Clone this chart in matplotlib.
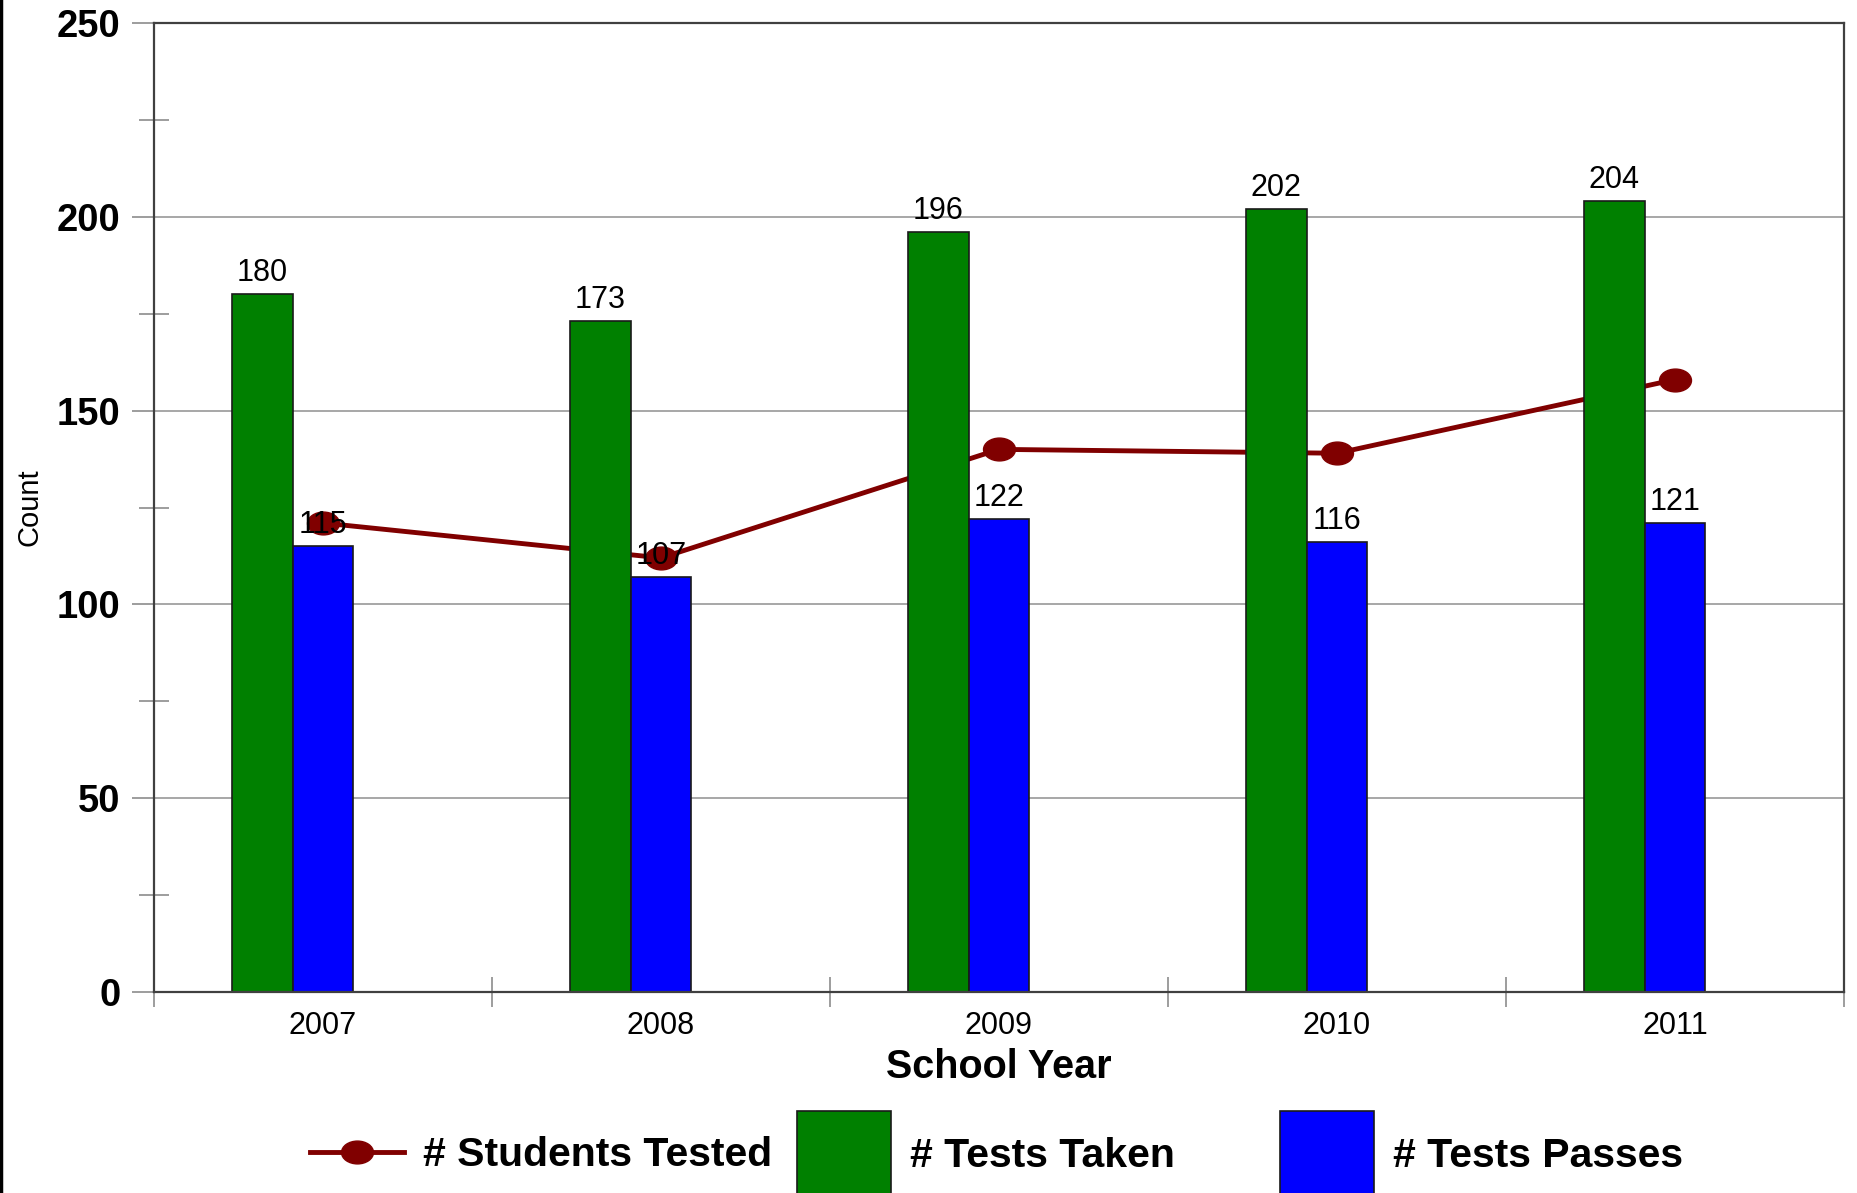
import numpy as np
import matplotlib
matplotlib.use('Agg')
import matplotlib.pyplot as plt
from matplotlib.path import Path
from matplotlib.lines import Line2D
from matplotlib.patches import Patch

plt.rcParams['font.family'] = ['Liberation Sans', 'DejaVu Sans']

years = ['2007', '2008', '2009', '2010', '2011']
students_tested = [121, 112, 140, 139, 158]
tests_taken = [180, 173, 196, 202, 204]
tests_passes = [115, 107, 122, 116, 121]

line_col = '#800000'
green = '#008000'
blue = '#0000ff'
grey = '#8c8c8c'

# wide ellipse marker like the original
circ = Path.unit_circle()
ellipse = Path(circ.vertices * np.array([1.4, 1.0]), circ.codes)

fig = plt.figure(figsize=(18.57, 11.93), dpi=100)
ax = fig.add_axes([0.0829, 0.1685, 0.9101, 0.8122])

x = np.arange(len(years))
w = 0.18
ax.bar(x + 0.5 - w, tests_taken, width=w, align='center', color=green,
       edgecolor='#1a1a1a', linewidth=1.2, zorder=2)
ax.bar(x + 0.5, tests_passes, width=w, align='center', color=blue,
       edgecolor='#1a1a1a', linewidth=1.2, zorder=2)
ax.plot(x + 0.5, students_tested, color=line_col, lw=3.5, marker=ellipse,
        markersize=23, zorder=1.5)

for xi, v in zip(x + 0.5 - w, tests_taken):
    ax.annotate(str(v), (xi, v), xytext=(0, 4.5), textcoords='offset points',
                ha='center', va='bottom', fontsize=22, zorder=4)
for xi, v in zip(x + 0.5, tests_passes):
    ax.annotate(str(v), (xi, v), xytext=(0, 4.5), textcoords='offset points',
                ha='center', va='bottom', fontsize=22, zorder=4)

ax.set_xlim(0, 5)
ax.set_ylim(0, 250)
ax.set_yticks([0, 50, 100, 150, 200, 250])
ax.set_yticks([25, 75, 125, 175, 225], minor=True)
ax.set_yticklabels(['0', '50', '100', '150', '200', '250'], fontsize=27.5, fontweight='bold')
ax.tick_params(axis='y', which='major', direction='out', length=16, color=grey,
               width=1.2, pad=8)
ax.tick_params(axis='y', which='minor', direction='inout', length=21, color=grey,
               width=1.2)

ax.set_xticks(x + 0.5)
ax.set_xticklabels(years, fontsize=22)
ax.set_xticks(np.arange(0, 6), minor=True)
ax.tick_params(axis='x', which='major', length=0, pad=14)
ax.tick_params(axis='x', which='minor', direction='inout', length=21.6, color=grey,
               width=1.2)

ax.yaxis.grid(True, which='major', color='#a0a0a0', lw=1.3, zorder=0.5)
ax.set_axisbelow(True)
for s in ax.spines.values():
    s.set_color('#404040')
    s.set_linewidth(1.6)

ax.set_xlabel('School Year', fontsize=28.5, fontweight='bold')
ax.xaxis.label.set_va('center')
ax.xaxis.set_label_coords(0.5, -0.0770)
ax.set_ylabel('Count', fontsize=21)
ax.yaxis.label.set_va('center')
ax.yaxis.set_label_coords(-0.0734, 0.5)

leg_kw = dict(loc='center left', frameon=False, borderpad=0,
              borderaxespad=0, handlelength=2.3,
              handletextpad=0.45, prop={'weight': 'bold', 'size': 29.5})
y_leg = 1 - 1155 / 1193
fig.legend([Line2D([], [], color=line_col, lw=3.5, marker=ellipse, markersize=23)],
           ['# Students Tested'], bbox_to_anchor=(310 / 1857, y_leg),
           numpoints=1, handleheight=0.7, **leg_kw)
fig.legend([Patch(facecolor=green, edgecolor='#1a1a1a', lw=1.2)],
           ['# Tests Taken'], bbox_to_anchor=(797 / 1857, y_leg),
           handleheight=2.9, **leg_kw)
fig.legend([Patch(facecolor=blue, edgecolor='#1a1a1a', lw=1.2)],
           ['# Tests Passes'], bbox_to_anchor=(1280 / 1857, y_leg),
           handleheight=2.9, **leg_kw)

# left border of the original image
fig.add_artist(Line2D([0.0008, 0.0008], [0, 1], color='black', lw=2.5,
                      transform=fig.transFigure))

fig.savefig('out.png', dpi=100)
